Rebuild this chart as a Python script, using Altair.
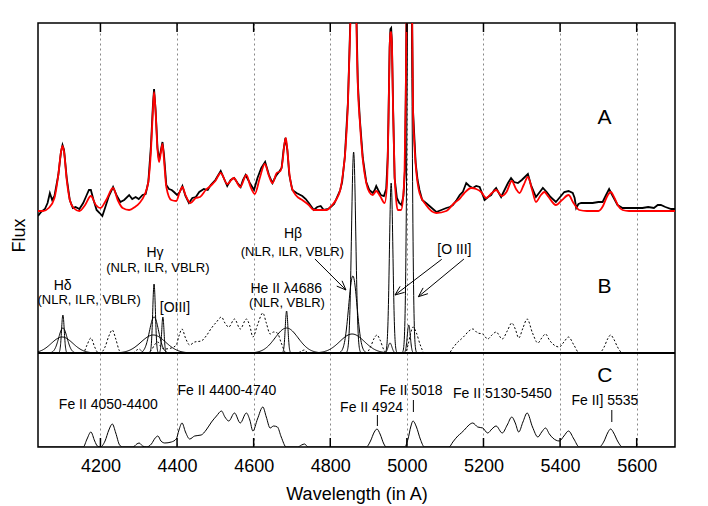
import numpy as np
import pandas as pd
import altair as alt

# ---------------- data ----------------
# Panel A: observed spectrum (black), wavelength in Angstrom, flux in plot units
obs_wave = [4037, 4045, 4055, 4062, 4068, 4074, 4080, 4090, 4097, 4101,
            4105, 4112, 4120, 4128, 4135, 4145, 4155, 4163, 4170, 4175,
            4182, 4190, 4198, 4205, 4212, 4222, 4233, 4243, 4252, 4262,
            4275, 4283, 4292, 4300, 4310, 4318, 4325, 4332, 4337, 4340,
            4344, 4349, 4353, 4358, 4362, 4366, 4372, 4379, 4386, 4392,
            4400, 4407, 4414, 4422, 4431, 4440, 4449, 4458, 4470, 4480,
            4488, 4500, 4514, 4522, 4531, 4540, 4549, 4558, 4566, 4572,
            4579, 4590, 4601, 4610, 4620, 4630, 4640, 4649, 4658, 4666,
            4673, 4678, 4683, 4688, 4693, 4701, 4712, 4727, 4736, 4744,
            4757, 4766, 4775, 4783, 4795, 4801, 4810, 4818, 4826, 4831,
            4838, 4846, 4850, 4853, 4857, 4861, 4865, 4868, 4872, 4877,
            4885, 4894, 4902, 4911, 4916, 4920, 4925, 4932, 4940, 4946,
            4950, 4952, 4955, 4957, 4959, 4961, 4964, 4968, 4974, 4980,
            4986, 4991, 4995, 4997, 4999, 5002, 5007, 5011, 5014, 5016,
            5023, 5028, 5033, 5040, 5050, 5062, 5077, 5090, 5103, 5112,
            5120, 5130, 5138, 5146, 5155, 5163, 5172, 5181, 5190, 5198,
            5203, 5212, 5220, 5228, 5233, 5240, 5246, 5255, 5264, 5272,
            5280, 5290, 5300, 5308, 5316, 5324, 5337, 5345, 5355, 5365,
            5375, 5389, 5400, 5411, 5422, 5433, 5438, 5442, 5448, 5455,
            5470, 5485, 5500, 5511, 5520, 5528, 5536, 5550, 5563, 5590,
            5615, 5630, 5645, 5655, 5663, 5675, 5690, 5700]
obs_flux = [231, 235, 238, 244, 254, 247, 251, 272, 295, 302,
            297, 269, 247, 239, 240, 238, 244, 251, 257, 257,
            247, 237, 234, 231, 239, 251, 260, 251, 245, 247,
            252, 248, 250, 248, 252, 253, 265, 302, 342, 358,
            337, 299, 287, 297, 305, 292, 262, 258, 257, 255,
            252, 255, 261, 251, 244, 249, 250, 255, 258, 257,
            262, 267, 276, 269, 261, 267, 269, 264, 260, 267,
            272, 264, 257, 269, 279, 285, 272, 264, 271, 275,
            279, 297, 309, 297, 272, 257, 254, 251, 248, 244,
            237, 240, 241, 237, 238, 240, 243, 250, 257, 265,
            290, 344, 394, 437, 620, 700, 620, 437, 364, 329,
            289, 265, 257, 254, 257, 261, 257, 252, 251, 258,
            290, 330, 400, 418, 419, 405, 340, 269, 249, 244,
            242, 251, 277, 347, 427, 600, 900, 600, 417, 337,
            284, 267, 257, 247, 244, 240, 235, 237, 239, 240,
            242, 247, 252, 255, 264, 261, 259, 261, 260, 252,
            247, 250, 252, 257, 259, 254, 250, 257, 264, 269,
            265, 264, 267, 270, 273, 262, 250, 254, 259, 255,
            250, 245, 250, 255, 256, 254, 249, 239, 243, 244,
            244, 244, 245, 245, 252, 258, 252, 242, 239, 239,
            239, 240, 239, 242, 242, 240, 238, 238]

# Panel A: fitted model (red)
model_wave = [4037, 4050, 4065, 4080, 4090, 4097, 4101, 4105, 4112, 4120,
              4130, 4145, 4160, 4175, 4188, 4200, 4215, 4233, 4245, 4258,
              4275, 4290, 4302, 4315, 4325, 4332, 4337, 4340, 4344, 4349,
              4353, 4358, 4362, 4366, 4372, 4385, 4398, 4407, 4414, 4422,
              4435, 4449, 4460, 4475, 4490, 4500, 4514, 4531, 4548, 4565,
              4581, 4592, 4603, 4616, 4629, 4640, 4649, 4660, 4670, 4676,
              4680, 4684, 4688, 4693, 4700, 4712, 4727, 4744, 4757, 4790,
              4805, 4818, 4826, 4833, 4840, 4846, 4850, 4853, 4857, 4861,
              4865, 4868, 4872, 4877, 4885, 4894, 4902, 4911, 4920, 4930,
              4942, 4948, 4952, 4955, 4957, 4959, 4961, 4964, 4968, 4972,
              4976, 4985, 4990, 4994, 4997, 4999, 5002, 5007, 5011, 5014,
              5016, 5019, 5023, 5028, 5033, 5050, 5077, 5103, 5124, 5137,
              5150, 5168, 5181, 5194, 5207, 5222, 5233, 5248, 5260, 5274,
              5285, 5294, 5305, 5316, 5327, 5337, 5350, 5359, 5370, 5389,
              5405, 5422, 5435, 5450, 5470, 5500, 5512, 5522, 5532, 5542,
              5552, 5563, 5580, 5700]
model_flux = [236, 236, 239, 249, 272, 295, 301, 295, 267, 247,
              239, 236, 242, 251, 242, 239, 247, 259, 247, 239,
              237, 240, 244, 252, 265, 297, 337, 355, 335, 297,
              285, 295, 303, 287, 260, 247, 246, 255, 260, 252,
              244, 249, 250, 257, 262, 266, 274, 263, 269, 260,
              272, 260, 253, 269, 283, 271, 264, 274, 276, 287,
              302, 309, 297, 275, 259, 251, 247, 242, 237, 237,
              242, 249, 257, 273, 299, 342, 392, 437, 620, 700,
              620, 437, 362, 327, 287, 264, 255, 252, 256, 251,
              244, 262, 327, 397, 414, 415, 402, 337, 272, 247,
              237, 237, 249, 277, 347, 427, 600, 900, 600, 417,
              337, 307, 282, 264, 254, 242, 234, 236, 244, 248,
              254, 259, 258, 255, 249, 254, 257, 251, 255, 266,
              258, 254, 262, 270, 257, 245, 252, 255, 250, 242,
              247, 252, 244, 237, 236, 236, 241, 250, 255, 249,
              241, 237, 236, 236]

# Fe II template (panel C, and dotted in panel B)
fe_wave = [4037, 4155, 4165, 4175, 4185, 4192, 4200, 4212, 4222, 4231,
           4240, 4250, 4258, 4285, 4295, 4301, 4310, 4320, 4333, 4343,
           4350, 4358, 4368, 4385, 4398, 4405, 4413, 4422, 4433, 4446,
           4463, 4476, 4490, 4503, 4516, 4525, 4535, 4550, 4565, 4581,
           4590, 4598, 4610, 4624, 4633, 4643, 4652, 4662, 4672, 4685,
           4715, 4725, 4733, 4742, 4894, 4905, 4915, 4922, 4930, 4940,
           4946, 4994, 5003, 5010, 5016, 5025, 5035, 5046, 5110, 5120,
           5133, 5142, 5150, 5162, 5172, 5185, 5198, 5211, 5222, 5233,
           5249, 5262, 5274, 5283, 5292, 5303, 5314, 5328, 5342, 5352,
           5362, 5372, 5381, 5398, 5410, 5422, 5436, 5450, 5502, 5515,
           5524, 5532, 5540, 5550, 5563, 5700]
fe_flux = [0, 0, 8, 15, 6, 1, 0, 6, 17, 23,
           14, 2, 0, 0, 3, 4, 1, 0, 3, 9,
           11, 6, 4, 5, 8, 17, 24, 15, 8, 11,
           12, 17, 25, 31, 36, 30, 26, 34, 24, 34,
           27, 16, 28, 40, 30, 19, 21, 20, 10, 0,
           0, 2, 3, 0, 0, 6, 15, 18, 13, 3,
           0, 0, 8, 20, 26, 20, 8, 0, 0, 5,
           11, 14, 17, 22, 24, 20, 19, 14, 18, 21,
           14, 22, 30, 24, 15, 25, 34, 20, 10, 15,
           19, 13, 9, 6, 11, 16, 8, 0, 0, 6,
           14, 18, 14, 6, 0, 0]

# Panel B: Gaussian line components (centre, sigma in Angstrom, peak height)
comp_name = ["Hd NLR", "Hd ILR", "Hd VBLR", "Hg NLR", "Hg ILR", "Hg VBLR",
             "OIII4363", "HeII NLR", "HeII VBLR", "Hb NLR", "Hb ILR", "Hb VBLR",
             "OIII4959", "OIII4959 w", "OIII5007", "OIII5007 w"]
comp_center = [4102, 4102, 4100, 4340, 4340, 4338, 4363, 4686, 4686,
               4861, 4859, 4857, 4959, 4956, 5007, 5005]
comp_sigma = [3.5, 11, 28, 3.5, 12, 32, 3, 3.5, 30, 5.5, 11, 32, 4.5, 5, 5, 4]
comp_amp = [38, 25, 16, 69, 36, 18, 36, 42, 25, 201, 77, 19, 170, 10, 600, 28]

B_BASE = 94          # baseline of panel B (top of panel C)
X_MIN, X_MAX = 4037, 5700
Y_MAX = 424
GRID_VALUES = [4200, 4400, 4600, 4800, 5000, 5200, 5400, 5600]

# text annotations
txt_text = ["A", "B", "C", "H\u03b4", "(NLR, ILR, VBLR)", "H\u03b3", "(NLR, ILR, VBLR)",
            "[OIII]", "He II \u03bb4686", "(NLR, VBLR)", "H\u03b2", "(NLR, ILR, VBLR)",
            "[O III]", "Fe II 4050-4400", "Fe II 4400-4740", "Fe II 4924",
            "Fe II 5018", "Fe II 5130-5450", "Fe II] 5535"]
txt_wave = [5516, 5516, 5517, 4101.5, 4170.6, 4342.4, 4350, 4394.6, 4685, 4687,
            4702.6, 4701, 5124, 4220.5, 4530, 4908, 5010.6, 5249.5, 5517]
txt_flux = [329, 160.5, 71, 161, 147, 194, 179, 139, 158, 144,
            213, 195, 197, 42, 56.5, 39, 56.5, 53.5, 46.5]
txt_size = [21, 21, 21, 14, 13, 14, 13, 14, 14, 13, 14, 13, 14, 14, 14, 14, 14, 14, 14]

# arrows: start (wave, flux) -> end (wave, flux)
arrow_w0 = [4760, 5091, 5149]
arrow_f0 = [188, 187.7, 188]
arrow_w1 = [4841, 4969, 5030]
arrow_f1 = [157, 152, 150.3]

# short vertical marks under Fe II labels
mark_wave = [4923, 5017, 5535]
mark_lo = [21, 35, 25]
mark_hi = [32, 47, 37]

# ---------------- build tables ----------------
FONT = "Liberation Sans"
PLOT_W, PLOT_H = 637, 424
PX_PER_A = PLOT_W / (X_MAX - X_MIN)

obs_df = pd.DataFrame({"w": obs_wave, "f": obs_flux})
model_df = pd.DataFrame({"w": model_wave, "f": model_flux})
fe_c_df = pd.DataFrame({"w": fe_wave, "f": fe_flux})
fe_b_df = pd.DataFrame({"w": fe_wave, "f": [v + B_BASE for v in fe_flux]})

rows = []
for name, c, s, a in zip(comp_name, comp_center, comp_sigma, comp_amp):
    xs = np.concatenate([[X_MIN], np.linspace(c - 5 * s, c + 5 * s, 121), [X_MAX]])
    ys = B_BASE + a * np.exp(-0.5 * ((xs - c) / s) ** 2)
    for x, y in zip(xs, ys):
        rows.append({"w": float(x), "f": float(y), "comp": name})
comp_df = pd.DataFrame(rows)

seg = []
for v in GRID_VALUES:
    seg.append({"w": v, "f": 0, "w2": v, "f2": 9, "sw": 1.5})
    seg.append({"w": v, "f": Y_MAX - 9, "w2": v, "f2": Y_MAX, "sw": 1.5})
seg.append({"w": X_MIN, "f": B_BASE, "w2": X_MAX, "f2": B_BASE, "sw": 2})
for w, lo, hi in zip(mark_wave, mark_lo, mark_hi):
    seg.append({"w": w, "f": lo, "w2": w, "f2": hi, "sw": 1})
head_len, head_ang = 10.0, np.radians(22)
for w0, f0, w1, f1 in zip(arrow_w0, arrow_f0, arrow_w1, arrow_f1):
    seg.append({"w": w0, "f": f0, "w2": w1, "f2": f1, "sw": 1})
    dx, dy = (w1 - w0) * PX_PER_A, (f1 - f0)
    n = np.hypot(dx, dy)
    ux, uy = dx / n, dy / n
    for sgn in (1, -1):
        ca, sa = np.cos(sgn * head_ang), np.sin(sgn * head_ang)
        rx, ry = ux * ca - uy * sa, ux * sa + uy * ca
        seg.append({"w": w1, "f": f1, "w2": w1 - rx * head_len / PX_PER_A,
                    "f2": f1 - ry * head_len, "sw": 1})
seg_df = pd.DataFrame(seg)

txt_df = pd.DataFrame({"text": txt_text, "w": txt_wave, "f": txt_flux, "size": txt_size})

# ---------------- chart ----------------
xscale = alt.Scale(domain=[X_MIN, X_MAX], nice=False, zero=False)
yscale = alt.Scale(domain=[0, Y_MAX], nice=False, zero=False)

x_axis = alt.Axis(values=GRID_VALUES, grid=True, gridColor="#888888", gridDash=[2, 3],
                  gridWidth=1, ticks=False, domain=False, format="d",
                  labelFont=FONT, labelFontSize=18, labelColor="black", labelPadding=10,
                  title="Wavelength (in A)", titleFont=FONT, titleFontSize=18,
                  titleFontWeight="normal", titleColor="black", titlePadding=10)
y_axis = alt.Axis(labels=False, ticks=False, domain=False, grid=False, title="Flux",
                  titleFont=FONT, titleFontSize=18, titleFontWeight="normal",
                  titleColor="black", titlePadding=10)

enc_x = alt.X("w:Q", scale=xscale, axis=x_axis, title="Wavelength (in A)")
enc_y = alt.Y("f:Q", scale=yscale, axis=y_axis, title="Flux")

fe_c = alt.Chart(fe_c_df).mark_line(color="black", strokeWidth=1, interpolate="monotone",
                                    clip=True).encode(x=enc_x, y=enc_y)
fe_b = alt.Chart(fe_b_df).mark_line(color="black", strokeWidth=1, strokeDash=[2, 2],
                                    interpolate="monotone", clip=True).encode(x=enc_x, y=enc_y)
comps = alt.Chart(comp_df).mark_line(color="black", strokeWidth=1, clip=True).encode(
    x=enc_x, y=enc_y, detail="comp:N", order="w:Q")
obs = alt.Chart(obs_df).mark_line(color="black", strokeWidth=1.8, clip=True).encode(x=enc_x, y=enc_y)
model = alt.Chart(model_df).mark_line(color="#ff0000", strokeWidth=1.8, interpolate="monotone",
                                      clip=True).encode(x=enc_x, y=enc_y)
segs = alt.Chart(seg_df).mark_rule(color="black", clip=True).encode(
    x=enc_x, y=enc_y, x2="w2:Q", y2="f2:Q", strokeWidth=alt.StrokeWidth("sw:Q", scale=None))
texts = alt.Chart(txt_df).mark_text(font=FONT, color="black", align="center",
                                    baseline="middle").encode(
    x=enc_x, y=enc_y, text="text:N", size=alt.Size("size:Q", scale=None))

chart = alt.layer(fe_c, fe_b, comps, obs, model, segs, texts).properties(
    width=PLOT_W, height=PLOT_H,
    autosize=alt.AutoSizeParams(type="none"),
    padding={"left": 30, "top": 15, "right": 25, "bottom": 58},
).configure_view(stroke="black", strokeWidth=1.5)

chart.save("out.html", embed_options={"renderer": "svg", "actions": False})
